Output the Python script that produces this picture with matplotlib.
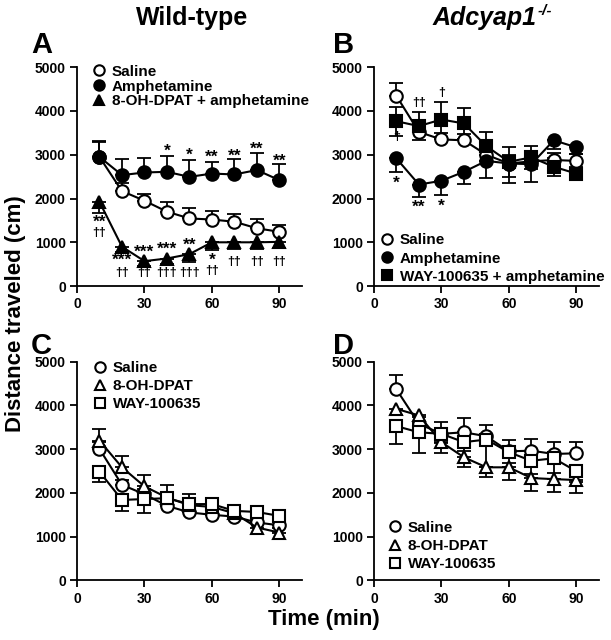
import matplotlib
matplotlib.use("Agg")
import matplotlib.pyplot as plt
from matplotlib.lines import Line2D
import numpy as np

plt.rcParams['font.family'] = ['Liberation Sans', 'DejaVu Sans']
plt.rcParams['font.weight'] = 'bold'

time = [10, 20, 30, 40, 50, 60, 70, 80, 90]

# Panel A (wild-type)
A_saline = [2950, 2170, 1950, 1700, 1545, 1520, 1470, 1320, 1240]
A_saline_err = [350, 175, 145, 215, 230, 200, 170, 205, 155]
A_amph = [2950, 2535, 2595, 2610, 2495, 2570, 2550, 2650, 2420]
A_amph_err = [365, 360, 335, 365, 380, 265, 345, 380, 365]
A_dpat = [1925, 900, 570, 630, 730, 1000, 1000, 1000, 1010]
A_dpat_err = [250, 120, 110, 130, 175, 175, 150, 150, 150]

# Panel B (Adcyap1-/-)
B_saline = [4345, 3520, 3350, 3330, 3000, 2800, 2850, 2880, 2860]
B_saline_err = [300, 150, 150, 150, 200, 200, 200, 150, 150]
B_amph = [2915, 2320, 2405, 2610, 2860, 2800, 2785, 3330, 3170]
B_amph_err = [320, 285, 325, 280, 400, 455, 405, 200, 150]
B_way = [3765, 3655, 3805, 3715, 3195, 2840, 2940, 2725, 2570]
B_way_err = [330, 325, 390, 345, 330, 340, 255, 200, 150]

# Panel C (wild-type)
C_saline = [3005, 2185, 1970, 1705, 1555, 1500, 1460, 1325, 1260]
C_saline_err = [150, 120, 110, 100, 100, 90, 90, 90, 90]
C_dpat = [3195, 2585, 2150, 1895, 1720, 1680, 1535, 1210, 1095]
C_dpat_err = [270, 250, 265, 280, 250, 120, 100, 100, 100]
C_way = [2485, 1840, 1860, 1880, 1745, 1745, 1590, 1565, 1475]
C_way_err = [230, 250, 320, 150, 120, 100, 100, 100, 100]

# Panel D (Adcyap1-/-)
D_saline = [4365, 3580, 3350, 3385, 3295, 2950, 2965, 2890, 2905]
D_saline_err = [320, 150, 270, 320, 260, 250, 270, 280, 265]
D_dpat = [3920, 3770, 3160, 2815, 2585, 2585, 2340, 2315, 2295]
D_dpat_err = [150, 150, 250, 230, 230, 300, 300, 300, 300]
D_way = [3525, 3385, 3350, 3160, 3220, 2930, 2735, 2790, 2495]
D_way_err = [405, 480, 200, 200, 630, 250, 300, 330, 250]

FW, FH = 611, 640
fig = plt.figure(figsize=(FW / 100, FH / 100), dpi=100)

def make_ax(rect):
    ax = fig.add_axes(rect)
    ax.spines['top'].set_visible(False)
    ax.spines['right'].set_visible(False)
    for s in ['left', 'bottom']:
        ax.spines[s].set_linewidth(1.3)
    ax.set_xlim(0, 100)
    ax.set_ylim(0, 5000)
    ax.set_xticks([0, 30, 60, 90])
    ax.set_yticks([0, 1000, 2000, 3000, 4000, 5000])
    ax.tick_params(direction='out', length=5, width=1.3, labelsize=10, pad=3)
    for lab in ax.get_xticklabels() + ax.get_yticklabels():
        lab.set_fontweight('bold')
    return ax

def series(ax, y, err, marker, face, direction, ms=9):
    y = np.array(y, dtype=float)
    e = np.array(err, dtype=float)
    z = np.zeros_like(e)
    if direction == 'up':
        yerr = [z, e]
    elif direction == 'down':
        yerr = [e, z]
    else:
        yerr = [e, e]
    ax.errorbar(time, y, yerr=yerr, fmt='none', ecolor='black', elinewidth=1.3,
                capsize=5, capthick=1.3, zorder=2, clip_on=False)
    ax.plot(time, y, color='black', lw=1.5, marker=marker, ms=ms,
            markerfacecolor=face, markeredgecolor='black', markeredgewidth=1.5,
            zorder=3, clip_on=False)

W = 0.368
H = 0.342
axA = make_ax([0.126, 0.553, W, H])
axB = make_ax([0.612, 0.553, W, H])
axC = make_ax([0.126, 0.093, W, H])
axD = make_ax([0.612, 0.093, W, H])

# A
series(axA, A_saline, A_saline_err, 'o', 'white', 'up')
series(axA, A_amph, A_amph_err, 'o', 'black', 'up')
series(axA, A_dpat, A_dpat_err, '^', 'black', 'down')
# B
series(axB, B_saline, B_saline_err, 'o', 'white', 'up')
series(axB, B_amph, B_amph_err, 'o', 'black', 'down')
series(axB, B_way, B_way_err, 's', 'black', 'both', ms=8.5)
# C
series(axC, C_saline, C_saline_err, 'o', 'white', 'up')
series(axC, C_dpat, C_dpat_err, '^', 'white', 'up')
series(axC, C_way, C_way_err, 's', 'white', 'down', ms=8.5)
# D
series(axD, D_saline, D_saline_err, 'o', 'white', 'up')
series(axD, D_dpat, D_dpat_err, '^', 'white', 'down')
series(axD, D_way, D_way_err, 's', 'white', 'down', ms=8.5)

# manual legends (pixel layout)
def legend(x0, y0, dy, entries, size=11):
    for i, (m, face, label) in enumerate(entries):
        yy = 1 - (y0 + i * dy) / FH
        ms = 7.0 if m == 's' else 7.5
        fig.add_artist(Line2D([x0 / FW], [yy], transform=fig.transFigure, marker=m, ls='none',
                              ms=ms, markerfacecolor=face, markeredgecolor='black',
                              markeredgewidth=1.5))
        fig.text((x0 + 13) / FW, yy, label, ha='left', va='center_baseline',
                 fontsize=size, fontweight='bold')

legend(99, 70, 15, [('o', 'white', 'Saline'), ('o', 'black', 'Amphetamine'),
                    ('^', 'black', '8-OH-DPAT + amphetamine')])
legend(387, 239, 18, [('o', 'white', 'Saline'), ('o', 'black', 'Amphetamine'),
                      ('s', 'black', 'WAY-100635 + amphetamine')])
legend(100, 367, 18, [('o', 'white', 'Saline'), ('^', 'white', '8-OH-DPAT'),
                      ('s', 'white', 'WAY-100635')])
legend(395, 526, 18.5, [('o', 'white', 'Saline'), ('^', 'white', '8-OH-DPAT'),
                        ('s', 'white', 'WAY-100635')])

# significance annotations
def ann(ax, x, y, s, size=10):
    ax.text(x, y, s, ha='center', va='center', fontsize=size, fontweight='bold')

star_shift = 70
for x, y, s in [(40, 3150, '*'), (50, 3050, '*'), (60, 3010, '**'), (70, 3040, '**'),
                (80, 3200, '**'), (90, 2930, '**'),
                (10, 1530, '**'), (20, 650, '***'), (30, 850, '***'), (40, 900, '***'),
                (50, 1010, '**'), (60, 650, '*')]:
    ann(axA, x, y - star_shift, s, 12.5)
for x, y, s in [(10, 1210, '††'), (20, 300, '††'), (30, 290, '††'), (40, 290, '†††'),
                (50, 310, '†††'), (60, 340, '††'), (70, 550, '††'), (80, 550, '††'),
                (90, 550, '††')]:
    ann(axA, x, y, s, 9)

for x, y, s in [(10, 2420, '*'), (20, 1860, '**'), (30, 1900, '*')]:
    ann(axB, x, y - star_shift, s, 12.5)
for x, y, s in [(10, 3400, '†'), (20, 4190, '††'), (30, 4420, '†')]:
    ann(axB, x, y, s, 9)

# titles and labels
fig.text(192 / FW, 1 - 18 / FH, 'Wild-type', ha='center', va='center', fontsize=18,
         fontweight='bold')
fig.text(537 / FW, 1 - 18 / FH, 'Adcyap1', ha='right', va='center', fontsize=18,
         fontweight='bold', fontstyle='italic')
fig.text(538 / FW, 1 - 11 / FH, '-/-', ha='left', va='center', fontsize=11,
         fontweight='bold', fontstyle='italic')
for x, y, s in [(0.068, 0.930, 'A'), (0.562, 0.930, 'B'), (0.068, 0.460, 'C'), (0.562, 0.460, 'D')]:
    fig.text(x, y, s, ha='center', va='center', fontsize=21, fontweight='bold')

fig.text(0.026, 0.51, 'Distance traveled (cm)', rotation=90, ha='center', va='center',
         fontsize=16, fontweight='bold')
fig.text(324 / FW, 1 - 620 / FH, 'Time (min)', ha='center', va='center', fontsize=16,
         fontweight='bold')

fig.savefig('out.png', dpi=100)
